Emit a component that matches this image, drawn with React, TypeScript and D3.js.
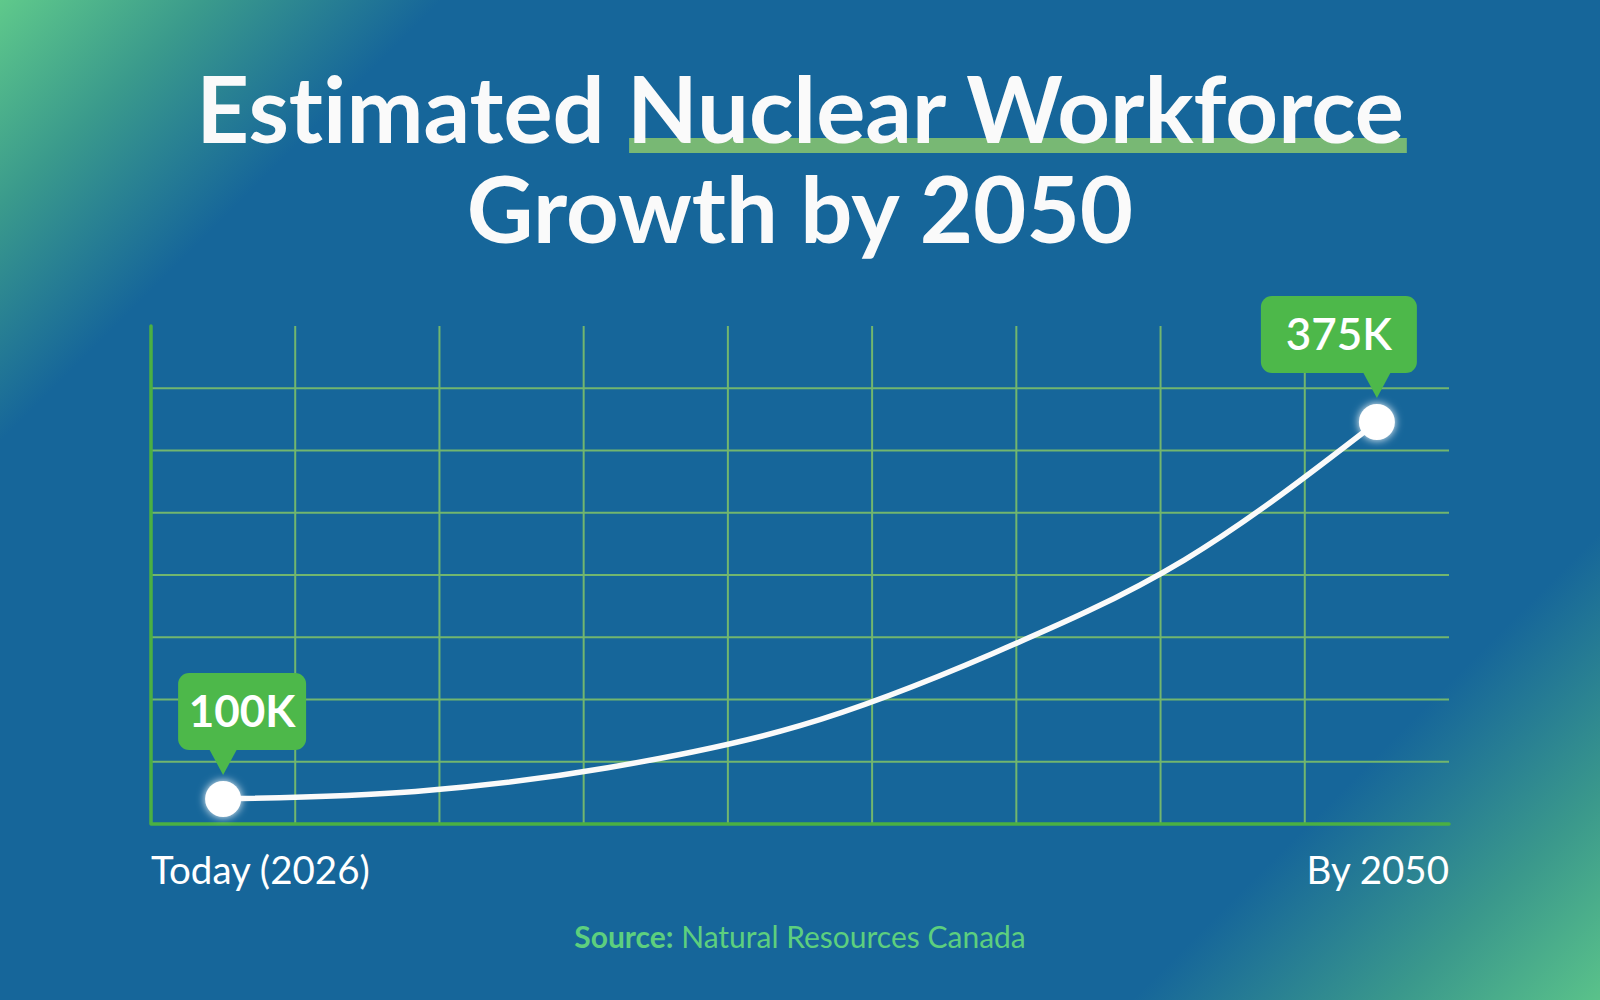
import {useLayoutEffect, useRef, useState} from "react";
import * as d3 from "d3";

// chart values
const years = [2026, 2030, 2034, 2038, 2042, 2046, 2050];
const workforceK = [100, 105.5, 122.8, 153.5, 206, 274.5, 375];
const calloutYears = [2026, 2050];
const calloutLabels = ["100K", "375K"];
const axisLabels = ["Today (2026)", "By 2050"];
const titleLines = ["Estimated", "Nuclear Workforce", "Growth by 2050"];
const sourceParts = ["Source:", " Natural Resources Canada"];

const W = 1600, H = 1000;
const plot = {left: 151, right: 1449, top: 326, bottom: 824};
const gridCols = 9, gridRows = 8;

const BLUE = "#16669a";
const GRID = "#72b66e";
const AXIS = "#4bb043";
const BOX = "#4db84a";

// callout box geometry: center offset from the dot, width, text weight
const calloutStyle = [{dx: 19, w: 128, weight: 700}, {dx: -38, w: 156, weight: 600}];

const noLiga = {fontVariantLigatures: "none", fontFeatureSettings: "'liga' 0"} as const;

export default function App() {
    const nuclearRef = useRef<SVGTSpanElement>(null);
    const [underline, setUnderline] = useState<{ x: number, w: number } | null>(null);

    useLayoutEffect(() => {
        if (!nuclearRef.current) return;
        const b = nuclearRef.current.getBBox();
        setUnderline({x: b.x + 2, w: b.width + 1});
    }, []);

    const colW = (plot.right - plot.left) / gridCols;

    const x = d3.scaleLinear([years[0], years[years.length - 1]], [plot.left + colW / 2, plot.right - colW / 2]);
    const y = d3.scaleLinear([100, 375], [799, 422]);

    const gridX = d3.scaleLinear([0, gridCols], [plot.left, plot.right]);
    const gridY = d3.scaleLinear([0, gridRows], [plot.bottom, plot.top]);

    const line = d3.line<number>()
        .x((_, i) => x(years[i]))
        .y(d => y(d))
        .curve(d3.curveMonotoneX);

    const dLine = line(workforceK) ?? "";

    return <svg width={W} height={H} viewBox={`0 0 ${W} ${H}`}
                style={{position: "absolute", left: 0, top: 0, display: "block", ...noLiga}}
                fontFamily="Lato, 'Noto Sans', sans-serif">
        <defs>
            <linearGradient id="bg" gradientUnits="userSpaceOnUse" x1={0} y1={0} x2={1300} y2={1300}>
                <stop offset="0" stopColor="#5fc98b"/>
                <stop offset="0.08" stopColor="#3a9a8c"/>
                <stop offset="0.17" stopColor={BLUE}/>
                <stop offset="0.82" stopColor={BLUE}/>
                <stop offset="0.92" stopColor="#3a988c"/>
                <stop offset="1" stopColor="#5ac28a"/>
            </linearGradient>
            <filter id="glow" x="-100%" y="-100%" width="300%" height="300%">
                <feGaussianBlur in="SourceGraphic" stdDeviation="4" result="b"/>
                <feMerge>
                    <feMergeNode in="b"/>
                    <feMergeNode in="SourceGraphic"/>
                </feMerge>
            </filter>
        </defs>
        <rect x={0} y={0} width={W} height={H} fill="url(#bg)"/>

        {/* title */}
        {underline && <rect x={underline.x} y={138} width={underline.w} height={15} fill="#78b874"/>}
        <text x={W / 2} y={143} textAnchor="middle" fontSize={92} fontWeight={700} fill="#fafafa" style={noLiga}>
            {titleLines[0]} <tspan ref={nuclearRef}>{titleLines[1]}</tspan>
        </text>
        <text x={W / 2} y={243} textAnchor="middle" fontSize={92} fontWeight={700} fill="#fafafa" style={noLiga}>
            {titleLines[2]}
        </text>

        {/* grid */}
        <g stroke={GRID} strokeWidth={2}>
            {d3.range(1, gridCols).map(i =>
                <line key={"v" + i} x1={gridX(i)} x2={gridX(i)} y1={plot.top} y2={plot.bottom}/>)}
            {d3.range(1, gridRows).map(i =>
                <line key={"h" + i} x1={plot.left} x2={plot.right} y1={gridY(i)} y2={gridY(i)}/>)}
        </g>
        <path d={`M${plot.left},${plot.top}V${plot.bottom}H${plot.right}`} fill="none" stroke={AXIS}
              strokeWidth={3.5} strokeLinecap="round" strokeLinejoin="round"/>

        {/* curve */}
        <path d={dLine} fill="none" stroke="#fafafa" strokeWidth={5.5} strokeLinecap="round"/>

        {/* callouts */}
        {calloutYears.map((yr, i) => {
            const cx = x(yr);
            const cy = y(workforceK[years.indexOf(yr)]);
            const s = calloutStyle[i];
            const boxBottom = cy - 49, boxTop = cy - 126;
            return <g key={yr}>
                <circle cx={cx} cy={cy} r={18} fill="#ffffff" filter="url(#glow)"/>
                <rect x={cx + s.dx - s.w / 2} y={boxTop} width={s.w} height={boxBottom - boxTop} rx={11} fill={BOX}/>
                <path d={`M${cx - 14},${boxBottom - 1}L${cx + 14},${boxBottom - 1}L${cx},${cy - 24}Z`} fill={BOX}/>
                <text x={cx + s.dx} y={(boxTop + boxBottom) / 2} dy="0.36em" textAnchor="middle"
                      fontSize={44} fontWeight={s.weight} fill="#ffffff">{calloutLabels[i]}</text>
            </g>;
        })}

        {/* axis labels */}
        <text x={plot.left} y={884} fontSize={38.5} fill="#ffffff">{axisLabels[0]}</text>
        <text x={plot.right} y={884} fontSize={38.5} fill="#ffffff" textAnchor="end">{axisLabels[1]}</text>

        {/* source */}
        <text x={W / 2} y={948} fontSize={30} fill="#5dcf7e" textAnchor="middle">
            <tspan fontWeight={700}>{sourceParts[0]}</tspan>{sourceParts[1]}
        </text>
    </svg>;
}
